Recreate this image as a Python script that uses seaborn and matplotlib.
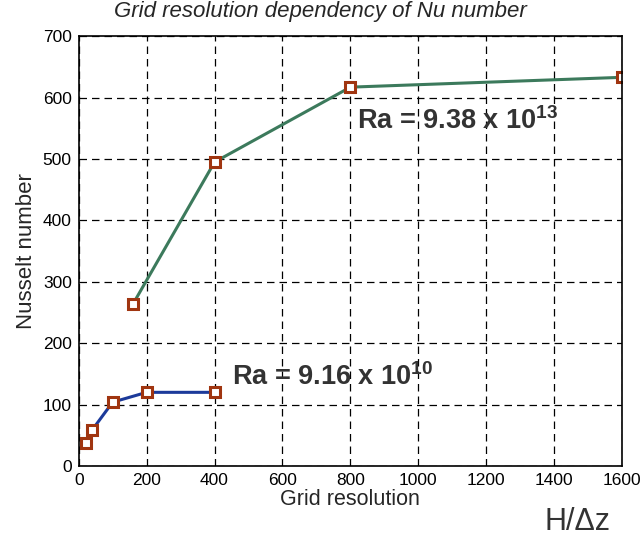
import matplotlib
matplotlib.use("Agg")
import matplotlib.pyplot as plt
import seaborn as sns
import pandas as pd

# Nusselt number vs grid resolution for two Rayleigh numbers
res_low = [20, 40, 100, 200, 400]
nu_low = [37, 59, 104, 120, 120]
res_high = [160, 400, 800, 1600]
nu_high = [264, 495, 617, 633]
x_ticks = [0, 200, 400, 600, 800, 1000, 1200, 1400, 1600]
y_ticks = [0, 100, 200, 300, 400, 500, 600, 700]

sns.set_style("white")
plt.rcParams["font.family"] = ["Liberation Sans", "DejaVu Sans"]
plt.rcParams["mathtext.fontset"] = "custom"
plt.rcParams["mathtext.rm"] = "Liberation Sans"
plt.rcParams["mathtext.bf"] = "Liberation Sans:bold"

fig = plt.figure(figsize=(6.4, 5.4), dpi=100)
ax = fig.add_axes([0.123, 0.137, 0.849, 0.796])

df_low = pd.DataFrame({"res": res_low, "nu": nu_low})
df_high = pd.DataFrame({"res": res_high, "nu": nu_high})

marker_kw = dict(marker="s", markersize=7.5, markerfacecolor="white",
                 markeredgecolor="#a03510", markeredgewidth=2.2)
sns.lineplot(data=df_low, x="res", y="nu", ax=ax, color="#1c3a9a",
             linewidth=2.2, **marker_kw)
sns.lineplot(data=df_high, x="res", y="nu", ax=ax, color="#3c7a5c",
             linewidth=2.2, **marker_kw)

ax.set_xlim(0, 1600)
ax.set_ylim(0, 700)
ax.set_xticks(x_ticks)
ax.set_yticks(y_ticks)
ax.tick_params(labelsize=12.5, direction="in", length=4, colors="black", pad=5)
ax.grid(True, color="black", linestyle=(0, (6, 4)), linewidth=0.9)
for s in ax.spines.values():
    s.set_color("black")
    s.set_linewidth(1.2)

ax.set_xlabel("Grid resolution", fontsize=15.5, labelpad=1)
ax.set_ylabel("Nusselt number", fontsize=16, labelpad=4)
fig.suptitle("Grid resolution dependency of Nu number", fontsize=16,
             style="italic", x=0.5, y=0.978, va="center")

ax.text(820, 561, r"Ra = 9.38 x 10$^{\mathregular{13}}$", fontsize=19.5,
        fontweight="bold", color="#333333", va="center")
ax.text(450, 144, r"Ra = 9.16 x 10$^{\mathregular{10}}$", fontsize=19.5,
        fontweight="bold", color="#333333", va="center")

fig.text(0.903, 0.033, "H/\u0394z", fontsize=22, color="#333333",
         ha="center", va="center")

fig.savefig("out.png", dpi=100)
